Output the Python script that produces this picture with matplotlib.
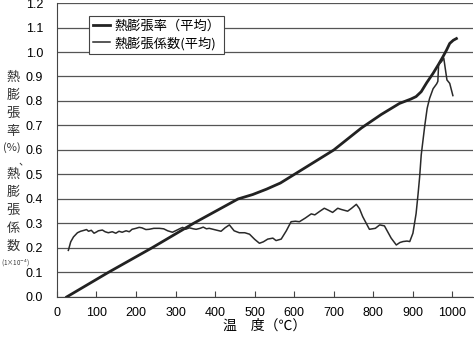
import matplotlib.pyplot as plt
import numpy as np

# 熱膨張率（平均）
rate_t = [25, 130, 240, 345, 458, 495, 530, 565, 600, 650, 700, 735, 770,
          820, 866, 895, 908, 921, 935, 951, 965, 976, 985, 993, 1002, 1010]
rate_v = [0.0, 0.1, 0.2, 0.3, 0.40, 0.418, 0.44, 0.465, 0.50, 0.55, 0.60, 0.645, 0.69,
          0.745, 0.79, 0.808, 0.818, 0.838, 0.875, 0.913, 0.95, 0.981, 1.008, 1.035, 1.048, 1.055]

# 熱膨張係数（平均）
coef_t = [29, 35, 42, 52, 60, 69, 75, 80, 87, 94, 100, 105, 115, 122, 130, 140, 149,
          157, 165, 175, 183, 190, 200, 208, 215, 225, 233, 245, 259, 270, 280, 292,
          300, 310, 318, 325, 335, 345, 352, 362, 370, 378, 385, 395, 405, 415, 425,
          436, 448, 461, 475, 487, 500, 512, 522, 533, 546, 554, 567, 580, 592, 603,
          613, 628, 643, 652, 665, 676, 685, 697, 710, 719, 735, 745, 757, 765, 773,
          790, 805, 816, 828, 845, 858, 867, 875, 885, 892, 900, 908, 913, 917, 921,
          930, 936, 942, 951, 960, 963, 965, 972, 978, 982, 986, 993, 1001]
coef_v = [0.19, 0.225, 0.245, 0.262, 0.268, 0.272, 0.275, 0.268, 0.272, 0.26, 0.265,
          0.27, 0.273, 0.266, 0.262, 0.266, 0.26, 0.268, 0.264, 0.27, 0.266, 0.276,
          0.28, 0.284, 0.282, 0.275, 0.276, 0.28, 0.28, 0.278, 0.27, 0.264, 0.27,
          0.278, 0.284, 0.276, 0.282, 0.278, 0.276, 0.28, 0.285, 0.278, 0.28, 0.276,
          0.272, 0.268, 0.282, 0.294, 0.27, 0.262, 0.262, 0.256, 0.235, 0.219, 0.225,
          0.236, 0.24, 0.23, 0.236, 0.27, 0.307, 0.309, 0.307, 0.322, 0.339, 0.335,
          0.35, 0.362, 0.355, 0.345, 0.362, 0.357, 0.35, 0.362, 0.378, 0.36, 0.328,
          0.276, 0.28, 0.294, 0.29, 0.24, 0.212, 0.222, 0.226, 0.228, 0.226, 0.26,
          0.34, 0.42, 0.49, 0.58, 0.70, 0.77, 0.81, 0.85, 0.87, 0.88, 0.95, 0.96,
          0.975, 0.93, 0.886, 0.872, 0.822]

xticks = list(range(0, 1001, 100))
yticks = np.round(np.arange(0, 1.21, 0.1), 1)

jp = ['Noto Sans CJK JP', 'DejaVu Sans']
plt.rcParams['font.family'] = ['Liberation Sans', 'Noto Sans CJK JP', 'DejaVu Sans']

fig = plt.figure(figsize=(4.74, 3.37), dpi=100)
ax = fig.add_axes([0.120, 0.119, 0.878, 0.872])

ax.plot(rate_t, rate_v, color='#222222', lw=2.0, label='熱膨張率（平均）', zorder=3)
ax.plot(coef_t, coef_v, color='#2a2a2a', lw=1.1, label='熱膨張係数(平均)', zorder=3)

ax.set_xlim(0, 1052)
ax.set_ylim(0, 1.2)
ax.set_xticks(xticks)
ax.set_yticks(yticks)
ax.set_yticklabels(['%.1f' % v for v in yticks])
ax.yaxis.grid(True, color='#555555', lw=0.9)
ax.set_axisbelow(True)
ax.tick_params(axis='x', direction='in', length=4, pad=7, labelsize=9, color='#444444')
ax.tick_params(axis='y', length=0, pad=10, labelsize=9)
for s in ['top', 'right']:
    ax.spines[s].set_visible(False)
ax.spines['left'].set_color('#444444')
ax.spines['bottom'].set_color('#444444')

ax.set_xlabel('温　度（℃）', family=jp, fontsize=10, labelpad=0)

leg = ax.legend(loc='upper left', bbox_to_anchor=(0.062, 0.98), prop={'family': jp, 'size': 9.5},
                handlelength=1.3, handletextpad=0.3, borderpad=0.3, labelspacing=0.3,
                fancybox=False, edgecolor='#444444', framealpha=1)
leg.get_frame().set_linewidth(0.8)

# 縦書きの軸ラベル
ylab = ['熱', '膨', '張', '率', '（%）', '、', '熱', '膨', '張', '係', '数']
ysteps = [0.053, 0.053, 0.053, 0.05, 0.041, 0.038, 0.053, 0.053, 0.053, 0.053, 0.05]
ypos = 0.77
for ch, st in zip(ylab, ysteps):
    if ch == '（%）':
        fig.text(0.024, ypos, '(%)', family=jp, fontsize=8, ha='center', va='center', color='#333333')
    elif ch == '、':
        fig.text(0.05, ypos, ch, family=jp, fontsize=7.5, ha='center', va='center', color='#333333')
    else:
        fig.text(0.028, ypos, ch, family=jp, fontsize=9.5, ha='center', va='center', color='#333333')
    ypos -= st
fig.text(0.002, ypos, '(1×10$^{-4}$)', family=jp, fontsize=4.5, ha='left', va='center',
         color='#333333')

plt.savefig('out.png')
